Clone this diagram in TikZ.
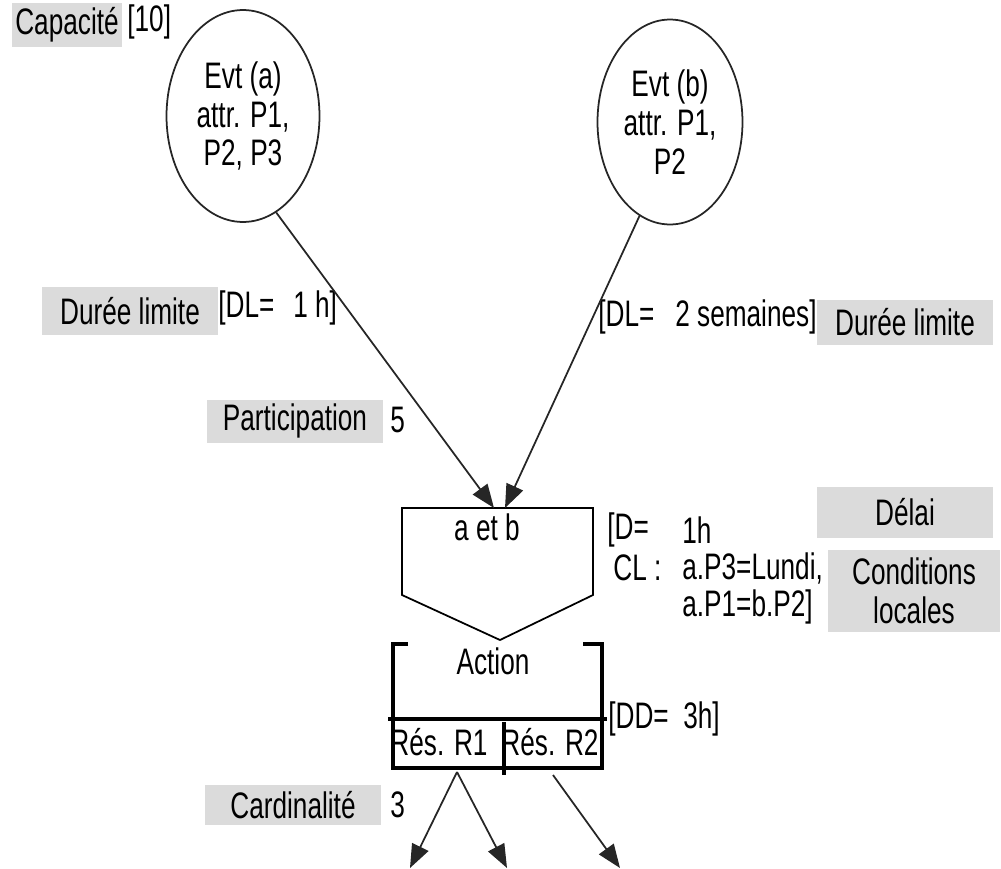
\documentclass[tikz,border=0pt]{standalone}
\usepackage{fontspec}
\setmainfont{Liberation Sans}[FakeStretch=0.71]
\usetikzlibrary{shapes.geometric,arrows.meta}
\tikzset{
  etiq/.style={fill=black!14, minimum width=3.52cm, minimum height=0.9cm, inner sep=0pt},
  txt/.style={anchor=west, inner sep=0pt},
  evt/.style={draw=black!85, ellipse, line width=1pt, inner sep=0pt, align=center},
  fleche/.style={draw=black!85, line width=1pt, -{Triangle[length=0.47cm,width=0.36cm]}},
  bord/.style={line width=1.8pt}
}
\begin{document}
\begin{tikzpicture}[x=0.02cm, y=-0.02cm, font=\fontsize{21}{22}\selectfont]
\useasboundingbox (0,0) rectangle (1001,869);
\node[evt, minimum width=3.06cm, minimum height=4.24cm] (evta) at (243,116) {Evt (a)\\attr. P1,\\P2, P3};
\node[evt, minimum width=2.9cm, minimum height=4.1cm] (evtb) at (670,122) {Evt (b)\\attr. P1,\\P2};
\node[etiq, minimum width=2.2cm] (capa) at (67,25) {Capacité};
\node[txt] (capav) at (127,22) {[10]};
\node[etiq, minimum height=0.96cm] (dla) at (130,311) {Durée limite};
\node[txt] (dla1) at (218,308) {[DL=};
\node[txt] (dla2) at (293,308) {1 h]};
\node[txt] (dlb1) at (598,317) {[DL=};
\node[txt] (dlb2) at (675,317) {2 semaines]};
\node[etiq] (dlb) at (905,322) {Durée limite};
\node[etiq, minimum height=0.86cm] (part) at (295,421) {Participation};
\node[txt] (partv) at (390,420) {5};
\node[txt] (del1) at (607,530) {[D=};
\node[txt] (del2) at (682,530) {1h};
\node[txt] (cl1) at (613,568) {CL :};
\node[txt] (cl2) at (682,568) {a.P3=Lundi,};
\node[txt] (cl3) at (682,607) {a.P1=b.P2]};
\node[etiq, minimum height=1.02cm] (delai) at (905,512) {Délai};
\node[etiq, minimum width=3.44cm, minimum height=1.64cm, align=center] (condloc) at (914,591) {Conditions\\locales};
\node (etb) at (487,527) {a et b};
\node (action) at (493,661) {Action};
\node (res1) at (439,742) {Rés. R1};
\node (res2) at (550,742) {Rés. R2};
\node[txt] (dd1) at (608,719) {[DD=};
\node[txt] (dd2) at (683,719) {3h]};
\node[etiq, minimum height=0.8cm] (card) at (293,805) {Cardinalité};
\node[txt] (cardv) at (390,805) {3};
\draw[line width=1pt] (402,508) -- (593,508) -- (593,595) -- (500,640) -- (402,595) -- cycle;
\draw[bord] (408,644) -| (393,768) -| (602,644) -- (583,644);
\draw[bord] (388,719) -- (607,719);
\draw[bord] (504,722) -- (504,775);
\coordinate (entA) at (494,508);
\coordinate (entB) at (505,508);
\coordinate (sr1) at (457,772);
\coordinate (sr2) at (553,775);
\coordinate (c1) at (410,868);
\coordinate (c2) at (507,868);
\coordinate (c3) at (620,868);
\draw[fleche] (evta.-71) -- (entA);
\draw[fleche] (evtb.-108) -- (entB);
\draw[fleche] (sr1) -- (c1);
\draw[fleche] (sr1) -- (c2);
\draw[fleche] (sr2) -- (c3);
\end{tikzpicture}
\end{document}
